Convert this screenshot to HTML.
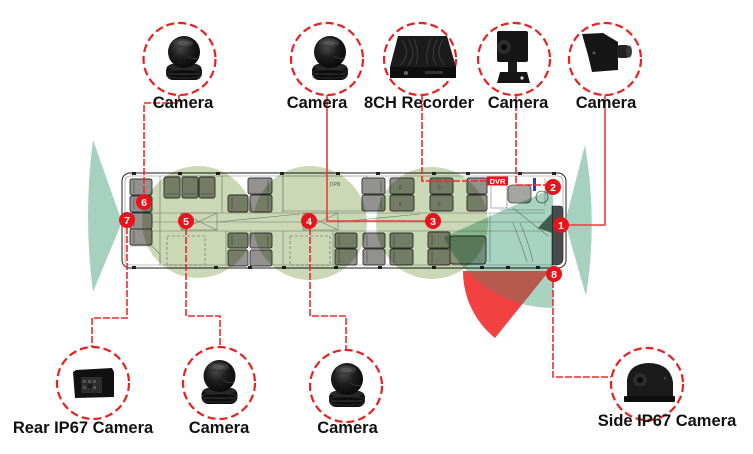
<!DOCTYPE html>
<html><head><meta charset="utf-8">
<style>
html,body{margin:0;padding:0;background:#fff;}
svg{display:block}
text{font-family:"Liberation Sans",Arial,sans-serif;}
.lbl{font-weight:bold;font-size:16.5px;fill:#111;text-anchor:middle}
.s{fill:#929290;stroke:#333;stroke-width:.9}
.si{fill:none;stroke:#4a4a4a;stroke-width:.6}
.ln{fill:none;stroke:#8a8a8a;stroke-width:.6}
.dl{fill:none;stroke:#ee2a2a;stroke-width:1.6;stroke-dasharray:7,2}
.sl{fill:none;stroke:#ee3a3a;stroke-width:1.6}
.cc{fill:none;stroke:#e82020;stroke-width:2.2;stroke-dasharray:8,4}
.mk{fill:#e8141c}
.mt{fill:#fff;font-weight:bold;font-size:10.5px;text-anchor:middle}
.mul{mix-blend-mode:multiply}
</style></head><body>
<svg width="753" height="454" viewBox="0 0 753 454" xmlns="http://www.w3.org/2000/svg">
<defs>
 <radialGradient id="dome" cx="0.4" cy="0.35" r="0.75">
  <stop offset="0" stop-color="#4a4a4a"/>
  <stop offset="0.45" stop-color="#1c1c1c"/>
  <stop offset="1" stop-color="#050505"/>
 </radialGradient>
 <clipPath id="tealclip"><path d="M553,188 L444,237 A120,120 0 0 0 553,308 Z"/></clipPath>
 <g id="domecam">
  <rect x="-18" y="26" width="36" height="16" rx="7" fill="#0e0e0e"/>
  <ellipse cx="0" cy="29" rx="17" ry="3.2" fill="#262626"/>
  <ellipse cx="0" cy="34" rx="17.5" ry="2.5" fill="none" stroke="#2e2e2e" stroke-width="1"/>
  <ellipse cx="0" cy="38" rx="17" ry="2.2" fill="none" stroke="#2a2a2a" stroke-width="1"/>
  <circle cx="0" cy="14" r="16" fill="url(#dome)"/>
  <ellipse cx="-1" cy="5" rx="10" ry="4.5" fill="#3a3a3a"/>
  <ellipse cx="-1" cy="5" rx="6" ry="2.5" fill="#555"/>
  <path d="M3,18 Q10,22 15,20" stroke="#3a3a3a" stroke-width="1" fill="none"/>
 </g>
</defs>

<!-- bus body -->
<rect x="122" y="173" width="444" height="95" rx="8" fill="#fff" stroke="#444" stroke-width="1.2"/>
<rect x="125" y="176" width="438" height="89" rx="5" fill="none" stroke="#888" stroke-width=".6"/>
<!-- window posts -->
<g fill="#222">
 <rect x="132" y="172" width="4" height="3"/><rect x="178" y="172" width="4" height="3"/><rect x="216" y="172" width="4" height="3"/>
 <rect x="280" y="172" width="4" height="3"/><rect x="336" y="172" width="4" height="3"/><rect x="376" y="172" width="4" height="3"/>
 <rect x="432" y="172" width="4" height="3"/><rect x="466" y="172" width="4" height="3"/><rect x="518" y="172" width="4" height="3"/><rect x="552" y="172" width="4" height="3"/>
 <rect x="132" y="266" width="4" height="3"/><rect x="214" y="266" width="4" height="3"/><rect x="248" y="266" width="4" height="3"/>
 <rect x="282" y="266" width="4" height="3"/><rect x="334" y="266" width="4" height="3"/><rect x="378" y="266" width="4" height="3"/>
 <rect x="432" y="266" width="4" height="3"/><rect x="480" y="266" width="4" height="3"/><rect x="506" y="266" width="4" height="3"/><rect x="536" y="266" width="4" height="3"/>
</g>
<!-- interior lines -->
<path class="ln" d="M152,213 L545,213 M152,231 L545,231 M130,222 L545,222"/>
<path class="ln" d="M160,176 L160,265 M222,176 L222,213 M226,231 L226,265 M283,176 L283,212 M367,176 L367,212 M283,231 L283,265 M333,231 L333,265 M487,176 L487,210"/>
<path fill="none" stroke="#777" stroke-width=".6" stroke-dasharray="3,2" d="M167,236 L205,236 L205,265 L167,265 Z M290,236 L330,236 L330,265 L290,265 Z"/>
<path class="ln" d="M181,213 L217,230 M181,230 L217,213 M181,213 L217,213 L217,230 L181,230 Z M303,213 L338,230 M303,230 L338,213 M303,213 L338,213 L338,230 L303,230 Z"/>
<path class="ln" d="M217,222 L300,214 M338,222 L420,214"/>
<rect x="283" y="176" width="84" height="35" fill="none" stroke="#999" stroke-width=".6"/>
<text x="330" y="186" font-size="5" fill="#666">DPB</text>
<path class="ln" d="M130,246 L152,246 L160,254 L160,265"/>

<!-- seats -->
<g>
 <rect class="s" x="130" y="179" width="22" height="16" rx="2"/>
 <rect class="s" x="130" y="196" width="22" height="16" rx="2"/>
 <rect class="s" x="130" y="213" width="22" height="16" rx="2"/>
 <rect class="s" x="130" y="229" width="22" height="16" rx="2"/>
 <rect class="s" x="164" y="177" width="16" height="21" rx="2"/>
 <rect class="s" x="182" y="177" width="16" height="21" rx="2"/>
 <rect class="s" x="199" y="177" width="16" height="21" rx="2"/>
 <rect class="s" x="248" y="178" width="24" height="16" rx="2"/>
 <rect class="s" x="228" y="195" width="20" height="17" rx="2"/>
 <rect class="s" x="250" y="195" width="22" height="17" rx="2"/>
 <rect class="s" x="228" y="233" width="20" height="15" rx="2"/>
 <rect class="s" x="250" y="233" width="22" height="15" rx="2"/>
 <rect class="s" x="228" y="250" width="20" height="16" rx="2"/>
 <rect class="s" x="250" y="250" width="22" height="16" rx="2"/>
 <rect class="s" x="362" y="178" width="23" height="16" rx="2"/>
 <rect class="s" x="362" y="195" width="23" height="16" rx="2"/>
 <rect class="s" x="390" y="178" width="24" height="16" rx="2"/>
 <rect class="s" x="390" y="195" width="24" height="16" rx="2"/>
 <rect class="s" x="430" y="178" width="23" height="16" rx="2"/>
 <rect class="s" x="430" y="195" width="23" height="16" rx="2"/>
 <rect class="s" x="467" y="178" width="20" height="16" rx="2"/>
 <rect class="s" x="467" y="195" width="20" height="16" rx="2"/>
 <rect class="s" x="335" y="233" width="22" height="15" rx="2"/>
 <rect class="s" x="335" y="249" width="22" height="16" rx="2"/>
 <rect class="s" x="363" y="233" width="22" height="15" rx="2"/>
 <rect class="s" x="363" y="249" width="22" height="16" rx="2"/>
 <rect class="s" x="390" y="233" width="23" height="15" rx="2"/>
 <rect class="s" x="390" y="249" width="23" height="16" rx="2"/>
 <rect class="s" x="428" y="232" width="22" height="16" rx="2"/>
 <rect class="s" x="428" y="249" width="22" height="16" rx="2"/>
 <rect class="s" x="450" y="236" width="36" height="28" rx="3" style="fill:#a8aba3"/>
</g>
<g class="si">
 <path d="M134,181 L134,193 M134,198 L134,210 M134,215 L134,227 M134,231 L134,243"/>
 <path d="M166,194 L178,194 M184,194 L196,194 M201,194 L213,194"/>
 <path d="M268,180 L268,192 M268,197 L268,210 M232,197 L232,210 M232,235 L232,246 M268,235 L268,246"/>
 <path d="M381,180 L381,192 M381,197 L381,209 M339,235 L339,246 M339,251 L339,263 M367,235 L367,246 M367,251 L367,263"/>
 <path d="M394,235 L394,246 M394,251 L394,263 M432,234 L432,246 M432,251 L432,263"/>
</g>
<text x="399" y="189" font-size="5" fill="#555">8</text><text x="399" y="206" font-size="5" fill="#555">8</text>
<text x="438" y="189" font-size="5" fill="#555">8</text><text x="438" y="206" font-size="5" fill="#555">8</text>

<!-- front area -->
<rect x="491" y="184" width="16" height="24" fill="#fff" stroke="#777" stroke-width=".6"/>
<rect x="508" y="185" width="23" height="18" rx="4" fill="#a4a4a0" stroke="#444" stroke-width=".8"/>
<circle cx="542" cy="197" r="6" fill="none" stroke="#555" stroke-width=".8"/>
<path class="ln" d="M513,208 L548,236 M500,210 L545,210 M513,223 Q520,240 527,262 M520,223 Q528,240 533,262 M490,213 L490,262 M545,178 L545,206"/>
<rect x="533" y="178" width="3" height="13" fill="#2a3fd0"/>
<path d="M552,206 L560,206 Q563,206 563,210 L563,258 Q563,264 556,265 L552,265 Z" fill="#4a4a4a" stroke="#222" stroke-width=".6"/>

<!-- green coverage circles -->
<g class="mul" fill="#cbd8b5">
 <circle cx="198" cy="222" r="56"/>
 <circle cx="310" cy="223" r="57"/>
 <circle cx="432" cy="223" r="56"/>
</g>
<!-- teal sector -->
<path class="mul" d="M553,188 L444,237 A120,120 0 0 0 553,308 Z" fill="#a7d3c0"/>
<polygon points="552,213 538,228 552,233" fill="#3f5f4c"/>
<!-- red sector -->
<path d="M549,271 L463,271 A86,86 0 0 0 495,338 Z" fill="#f24141"/>
<path d="M549,271 L463,271 A86,86 0 0 0 495,338 Z" fill="#b55a4c" clip-path="url(#tealclip)"/>
<!-- end cones -->
<path d="M122,222 L93,140 Q83,216 93,292 Z" fill="#a5d1be"/>
<path d="M565,222 L585,145 Q598,220 586,296 Z" fill="#a5d1be"/>

<!-- connector lines -->
<path class="dl" d="M179,95 L179,103 L144,103 L144,196"/>
<path class="sl" d="M327,95 L327,221 L426,221"/>
<path class="dl" d="M422,95 L422,181 L488,181"/>
<path class="dl" d="M516,95 L516,185 L546,185"/>
<path class="sl" d="M605,95 L605,225 L569,225"/>
<path class="dl" d="M127,227 L127,318 L92,318 L92,347"/>
<path class="dl" d="M186,228 L186,316 L220,316 L220,347"/>
<path class="dl" d="M310,228 L310,316 L346,316 L346,350"/>
<path class="dl" d="M553,281 L553,377 L611,377"/>

<!-- DVR label -->
<rect x="487" y="176.5" width="21" height="9" fill="#e8141c"/>
<text x="497.5" y="184" font-size="7.5" font-weight="bold" fill="#fff" text-anchor="middle">DVR</text>

<!-- markers -->
<g>
 <circle class="mk" cx="561" cy="225" r="8"/><text class="mt" x="561" y="229">1</text>
 <circle class="mk" cx="553" cy="187" r="8"/><text class="mt" x="553" y="191">2</text>
 <circle class="mk" cx="433" cy="221" r="8"/><text class="mt" x="433" y="225">3</text>
 <circle class="mk" cx="309" cy="221" r="8"/><text class="mt" x="309" y="225">4</text>
 <circle class="mk" cx="186" cy="221" r="8"/><text class="mt" x="186" y="225">5</text>
 <circle class="mk" cx="144" cy="202" r="8"/><text class="mt" x="144" y="206">6</text>
 <circle class="mk" cx="127" cy="220" r="8"/><text class="mt" x="127" y="224">7</text>
 <circle class="mk" cx="554" cy="274" r="8"/><text class="mt" x="554" y="278">8</text>
</g>

<!-- top camera circles -->
<circle class="cc" cx="179.5" cy="59" r="36"/>
<circle class="cc" cx="327" cy="59" r="36"/>
<circle class="cc" cx="420" cy="59" r="36"/>
<circle class="cc" cx="514" cy="59" r="36"/>
<circle class="cc" cx="605" cy="59" r="36"/>
<!-- bottom camera circles -->
<circle class="cc" cx="93" cy="383" r="36"/>
<circle class="cc" cx="219" cy="383" r="36"/>
<circle class="cc" cx="346" cy="386" r="36"/>
<circle class="cc" cx="647" cy="384" r="36"/>

<!-- devices -->
<use href="#domecam" x="184" y="38"/>
<use href="#domecam" x="330" y="38"/>
<use href="#domecam" x="219.5" y="362"/>
<use href="#domecam" x="347" y="365"/>
<!-- recorder -->
<polygon points="398,36 447,36 456,67 390,67" fill="#1b1b1b"/>
<path d="M402,40 Q412,55 400,65 M408,39 Q418,55 408,65 M414,39 Q420,55 416,65 M431,39 Q424,55 428,65 M437,39 Q430,55 436,65 M443,39 Q434,55 445,65" stroke="#3c3c3c" stroke-width="1" fill="none"/>
<rect x="390" y="67" width="66" height="11" fill="#0e0e0e"/>
<circle cx="406" cy="73" r="2" fill="#666"/>
<rect x="425" y="71" width="18" height="3" fill="#333"/>
<!-- square cam with bracket -->
<rect x="497" y="31" width="31" height="31" rx="2" fill="#151515"/>
<circle cx="504" cy="47" r="7" fill="#2c2c2c"/><circle cx="504" cy="47" r="3" fill="#0a0a0a"/>
<rect x="508" y="62" width="9" height="10" fill="#1a1a1a"/>
<polygon points="500,72 527,72 530,83 497,83" fill="#151515"/>
<circle cx="522" cy="78" r="1.6" fill="#ddd"/>
<!-- angled box cam -->
<polygon points="582,34 603,33 618,42 618,70 592,72 588,55" fill="#161616"/>
<rect x="617" y="45" width="12" height="13" rx="3" fill="#222"/>
<ellipse cx="629" cy="51.5" rx="3" ry="6" fill="#3a3a3a"/>
<circle cx="594" cy="53" r="1.5" fill="#555"/>
<!-- rear IP67 -->
<polygon points="76,370 112,368 114,372 114,397 75,398 73,372" fill="#111"/>
<rect x="81" y="377" width="21" height="16" fill="#2d2d2d"/>
<g fill="#555"><rect x="83" y="380" width="3" height="3"/><rect x="88" y="380" width="3" height="3"/><rect x="93" y="380" width="3" height="3"/><rect x="83" y="386" width="3" height="3"/><rect x="93" y="386" width="3" height="3"/></g>
<circle cx="90" cy="386" r="2.5" fill="#1a1a1a"/>
<!-- side IP67 -->
<path d="M627,397 L627,380 Q629,364 648,363 Q670,363 673,382 L673,399 Z" fill="#1a1a1a"/>
<circle cx="640" cy="380" r="7" fill="#2d2d2d"/><circle cx="640" cy="380" r="3" fill="#0c0c0c"/>
<rect x="624" y="396" width="51" height="6" rx="1" fill="#0d0d0d"/>
<circle cx="665" cy="378" r="1.3" fill="#444"/>

<!-- labels -->
<text class="lbl" x="183" y="108">Camera</text>
<text class="lbl" x="317" y="108">Camera</text>
<text class="lbl" x="419" y="108">8CH Recorder</text>
<text class="lbl" x="518" y="108">Camera</text>
<text class="lbl" x="606" y="108">Camera</text>
<text class="lbl" x="83" y="433">Rear IP67 Camera</text>
<text class="lbl" x="219" y="433">Camera</text>
<text class="lbl" x="347.5" y="433">Camera</text>
<text class="lbl" x="667" y="426">Side IP67 Camera</text>
</svg>
</body></html>
